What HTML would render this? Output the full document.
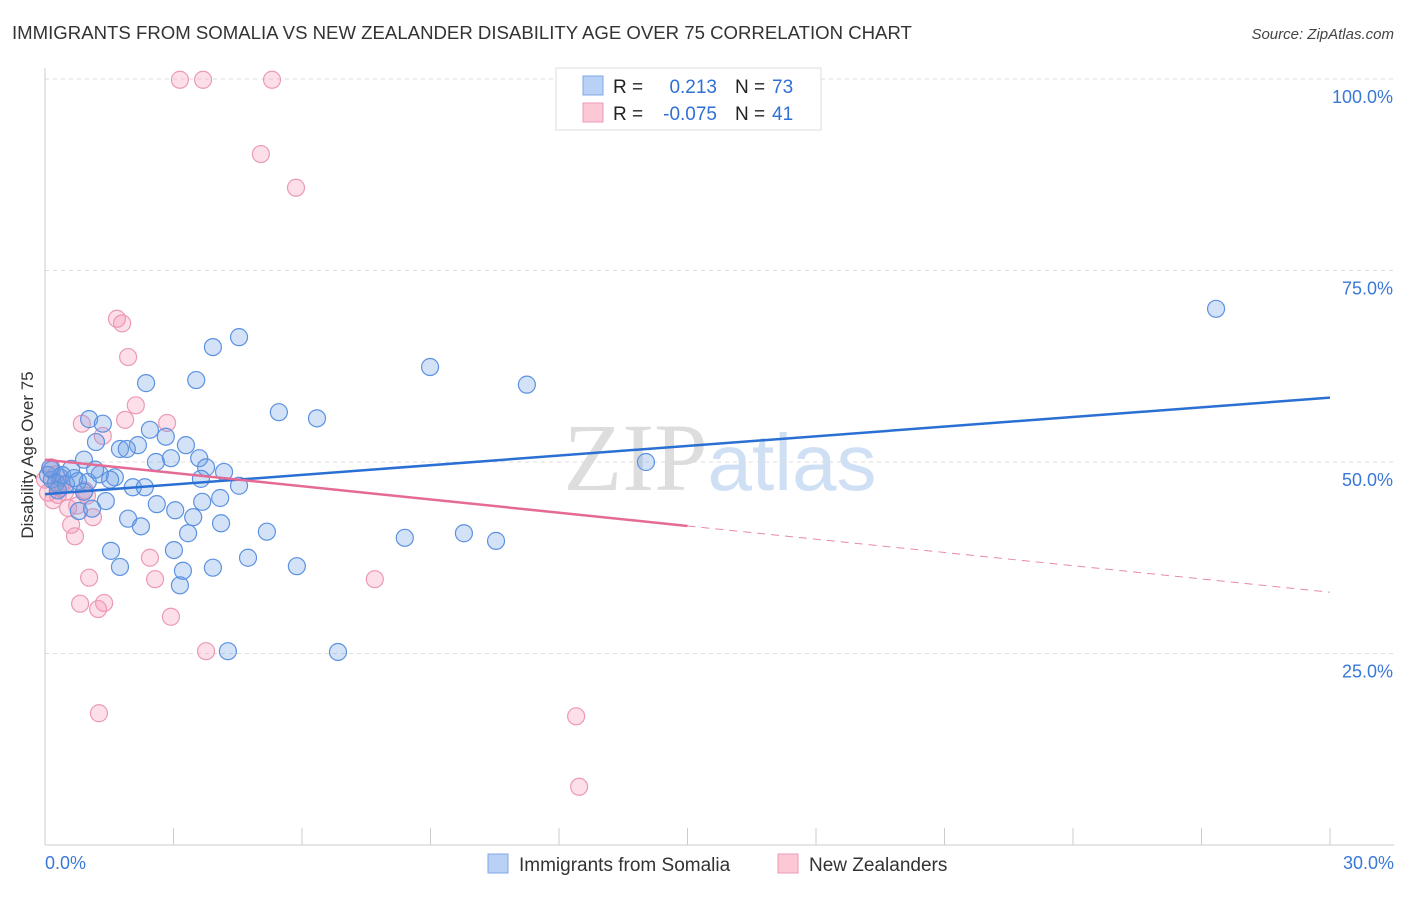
<!DOCTYPE html>
<html><head><meta charset="utf-8"><style>
body{margin:0;background:#fff;font-family:"Liberation Sans",sans-serif;}
</style></head><body>
<svg id="chart" width="1406" height="892" xmlns="http://www.w3.org/2000/svg" font-family="Liberation Sans, sans-serif">
<text x="12" y="39" font-size="18.6" fill="#333">IMMIGRANTS FROM SOMALIA VS NEW ZEALANDER DISABILITY AGE OVER 75 CORRELATION CHART</text>
<text x="1394" y="39" font-size="15" fill="#444" text-anchor="end" font-style="italic">Source: ZipAtlas.com</text>
<text x="720" y="490" font-size="96" fill="#ddd" text-anchor="middle" font-family="Liberation Serif, serif">ZIP<tspan fill="#cfe0f5" font-family="Liberation Sans, sans-serif" font-size="80">atlas</tspan></text>
<text transform="translate(33,455) rotate(-90)" font-size="17" fill="#333" text-anchor="middle">Disability Age Over 75</text>
<g id="grid"></g>
<g id="marks"></g>
<g>
<rect x="556" y="68" width="265" height="62" fill="#fff" stroke="#ddd"/>
<rect x="583" y="76" width="20" height="19" fill="#b8d1f5" stroke="#7fa8e8"/>
<rect x="583" y="103" width="20" height="19" fill="#fcc8d6" stroke="#ee9ab4"/>
<text x="613" y="93" font-size="19" fill="#222">R =</text>
<text x="717" y="93" font-size="19" fill="#2f6fd6" text-anchor="end">0.213</text>
<text x="735" y="93" font-size="19" fill="#222">N =</text>
<text x="772" y="93" font-size="19" fill="#2f6fd6">73</text>
<text x="613" y="120" font-size="19" fill="#222">R =</text>
<text x="717" y="120" font-size="19" fill="#2f6fd6" text-anchor="end">-0.075</text>
<text x="735" y="120" font-size="19" fill="#222">N =</text>
<text x="772" y="120" font-size="19" fill="#2f6fd6">41</text>
</g>
<g>
<rect x="488" y="854" width="20" height="19" fill="#b8d1f5" stroke="#7fa8e8"/>
<text x="519" y="871" font-size="19" fill="#333">Immigrants from Somalia</text>
<rect x="778" y="854" width="20" height="19" fill="#fcc8d6" stroke="#ee9ab4"/>
<text x="809" y="871" font-size="19" fill="#333">New Zealanders</text>
</g>
</svg>
<script>
const xTicks=[0,3,6,9,12,15,18,21,24,27,30];
const yTicks=[25,50,75,100];
const yTickLabels=["25.0%","50.0%","75.0%","100.0%"];
const xLabels=["0.0%","30.0%"];
const bluePx=[[1216,309],[239,337],[213,347],[430,367],[527,385],[146,383],[196,380],[279,412],[317,418],[89,419],[103,424],[150,430],[166,437],[96,442],[138,445],[120,449],[127,449],[186,445],[84,460],[156,462],[171,458],[199,458],[206,467],[224,472],[646,462],[71,469],[100,474],[115,477],[60,477],[52,480],[78,481],[88,482],[133,487],[145,487],[239,486],[201,479],[220,498],[52,470],[48,475],[106,501],[157,504],[202,502],[175,510],[79,511],[92,509],[193,517],[128,519],[141,526],[221,523],[188,533],[267,532],[405,538],[464,533],[496,541],[111,551],[174,550],[248,558],[120,567],[183,571],[213,568],[297,566],[180,585],[228,651],[338,652],[62,475],[56,483],[66,484],[74,478],[50,468],[58,490],[84,492],[110,480],[95,470]];
const pinkPx=[[180,80],[203,80],[272,80],[261,154],[296,188],[117,319],[122,323],[128,357],[136,405],[125,420],[167,423],[82,424],[103,436],[51,467],[56,474],[60,488],[65,492],[48,493],[53,500],[68,508],[77,506],[93,517],[71,525],[75,536],[87,496],[150,558],[89,578],[155,579],[375,579],[80,604],[104,603],[98,609],[171,617],[206,651],[99,713],[576,716],[579,787],[58,495],[62,485],[45,480],[85,490]];
const blueX=bluePx.map(p=>+((p[0]-45)/1285*30).toFixed(2));
const blueY=bluePx.map(p=>+((845-p[1])/766*100).toFixed(1));
const pinkX=pinkPx.map(p=>+((p[0]-45)/1285*30).toFixed(2));
const pinkY=pinkPx.map(p=>+((845-p[1])/766*100).toFixed(1));
const blueTrend=[45.8,58.4];
const pinkTrend=[50.3,33.0];
const pinkSolidEnd=15;

const sx=v=>45+v/30*1285, sy=v=>845-v/100*766;
const NS="http://www.w3.org/2000/svg";
function mk(tag,attrs,parent){const e=document.createElementNS(NS,tag);for(const k in attrs)e.setAttribute(k,attrs[k]);parent.appendChild(e);return e;}
const g=document.getElementById('grid'), m=document.getElementById('marks');
yTicks.forEach((t,i)=>{
 const l=mk('line',{x1:45,x2:1394,y1:sy(t),y2:sy(t),stroke:'#ddd','stroke-dasharray':'4,4'},g);
 
 
 const tx=mk('text',{x:1393,y:sy(t)+24,'font-size':18,fill:'#3a78d8','text-anchor':'end'},g);
 tx.textContent=yTickLabels[i];
 
 
});
const ax=mk('line',{x1:45,x2:45,y1:68,y2:845,stroke:'#ccc'},g);


const bx=mk('line',{x1:45,x2:1394,y1:845,y2:845,stroke:'#ccc'},g);


xTicks.forEach(t=>{
 const l=mk('line',{x1:sx(t),x2:sx(t),y1:828,y2:845,stroke:'#ccc'},g);
 
 
});
const xl0=mk('text',{x:45,y:869,'font-size':18,fill:'#3a78d8'},g);xl0.textContent=xLabels[0];


const xl1=mk('text',{x:1394,y:869,'font-size':18,fill:'#3a78d8','text-anchor':'end'},g);xl1.textContent=xLabels[1];


pinkX.forEach((x,i)=>{
 const c=mk('circle',{cx:sx(x),cy:sy(pinkY[i]),r:8.5,fill:'rgba(245,150,180,0.3)',stroke:'#ec9ab3','stroke-width':1.2},m);
 
 
});
blueX.forEach((x,i)=>{
 const c=mk('circle',{cx:sx(x),cy:sy(blueY[i]),r:8.5,fill:'rgba(110,160,230,0.3)',stroke:'#5c92e0','stroke-width':1.2},m);
 
 
});
const bt=mk('line',{x1:sx(0),y1:sy(blueTrend[0]),x2:sx(30),y2:sy(blueTrend[1]),stroke:'#2a6fd4','stroke-width':2.5},m);


const pm=pinkTrend[0]+(pinkTrend[1]-pinkTrend[0])*pinkSolidEnd/30;
const pt=mk('line',{x1:sx(0),y1:sy(pinkTrend[0]),x2:sx(pinkSolidEnd),y2:sy(pm),stroke:'#e56a95','stroke-width':2.5},m);


const pd=mk('line',{x1:sx(pinkSolidEnd),y1:sy(pm),x2:sx(30),y2:sy(pinkTrend[1]),stroke:'#e88aa8','stroke-width':1,'stroke-dasharray':'8,6'},m);


</script>
</body></html>
